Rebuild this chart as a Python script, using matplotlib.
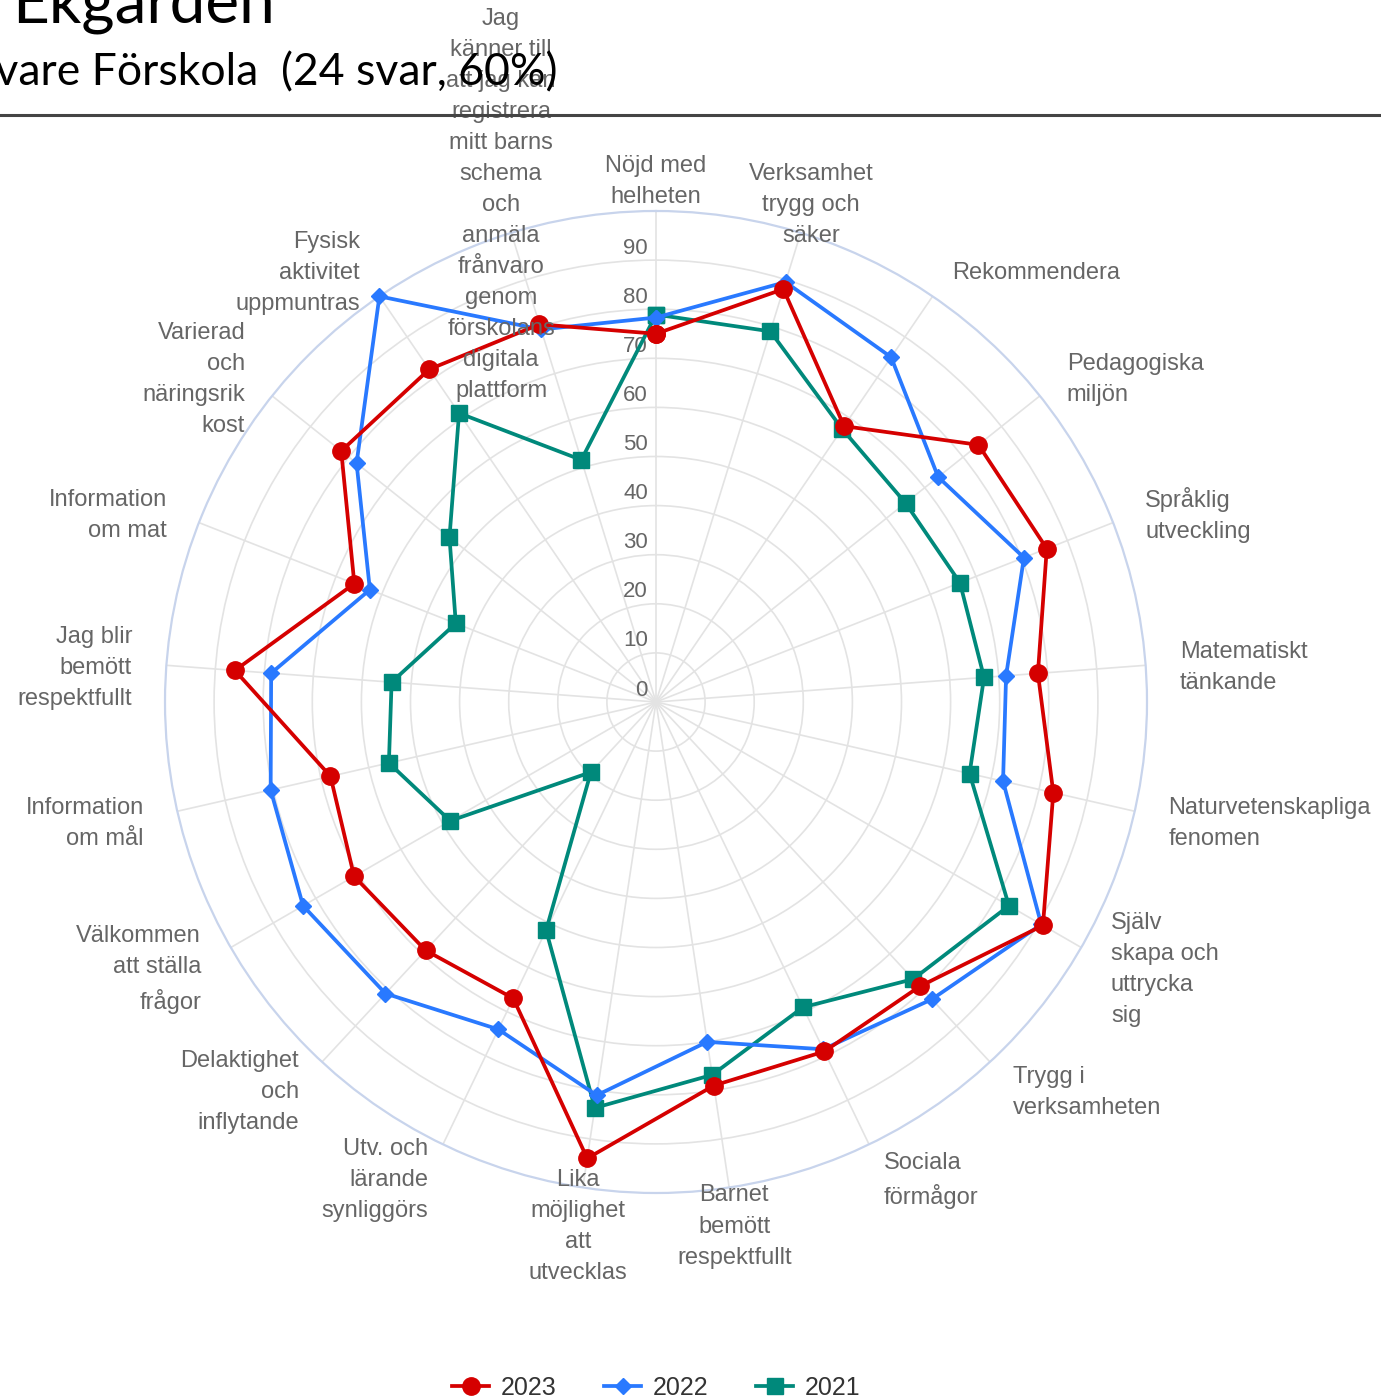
import matplotlib
matplotlib.use("Agg")
import matplotlib.pyplot as plt
import numpy as np
from matplotlib.lines import Line2D
from matplotlib.transforms import offset_copy

plt.rcParams['font.family'] = ['Liberation Sans', 'DejaVu Sans']

# Category labels, clockwise from the top
categories = [
    "Nöjd med\nhelheten",
    "Verksamhet\ntrygg och\nsäker",
    "Rekommendera",
    "Pedagogiska\nmiljön",
    "Språklig\nutveckling",
    "Matematiskt\ntänkande",
    "Naturvetenskapliga\nfenomen",
    "Själv\nskapa och\nuttrycka\nsig",
    "Trygg i\nverksamheten",
    "Sociala\nförmågor",
    "Barnet\nbemött\nrespektfullt",
    "Lika\nmöjlighet\natt\nutvecklas",
    "Utv. och\nlärande\nsynliggörs",
    "Delaktighet\noch\ninflytande",
    "Välkommen\natt ställa\nfrågor",
    "Information\nom mål",
    "Jag blir\nbemött\nrespektfullt",
    "Information\nom mat",
    "Varierad\noch\nnäringsrik\nkost",
    "Fysisk\naktivitet\nuppmuntras",
    "Jag\nkänner till\natt jag kan\nregistrera\nmitt barns\nschema\noch\nanmäla\nfrånvaro\ngenom\nförskolans\ndigitala\nplattform",
]

vals_2023 = [75, 88, 68, 84, 85.5, 78, 83, 91, 79, 79, 79, 94, 67, 69, 71, 68, 86, 66, 82, 82, 80.5]
vals_2022 = [78.3, 89.5, 85, 73.5, 80.5, 71.5, 72.5, 90.6, 82.6, 78.5, 70, 81, 74, 81, 83, 80.5, 78.6, 62.6, 78, 100, 79.4]
vals_2021 = [78.9, 79, 67.3, 65, 66.5, 67, 65.5, 83, 77, 69, 76.8, 83.6, 51.6, 19.5, 48.4, 55.8, 54, 43.8, 53.8, 71.2, 51.6]

years = ["2023", "2022", "2021"]
ticks = list(range(0, 100, 10))

colors = {"2023": "#d50000", "2022": "#2979ff", "2021": "#00897b"}
markers = {"2023": ("o", 12.5), "2022": ("D", 8), "2021": ("s", 12)}
series = {"2023": vals_2023, "2022": vals_2022, "2021": vals_2021}

W, H = 1381, 1400
fig = plt.figure(figsize=(W / 100, H / 100), dpi=100)

# polar axes centred at (656, 702) px, radius 491 px
cx, cy, R = 656, 702, 491
ax = fig.add_axes([(cx - R) / W, (H - cy - R) / H, 2 * R / W, 2 * R / H], projection='polar')
ax.set_theta_zero_location('N')
ax.set_theta_direction(-1)

n = len(categories)
angles = np.linspace(0, 2 * np.pi, n, endpoint=False)

ax.set_ylim(0, 100)
ax.set_yticks(ticks[1:])
ax.set_yticklabels([])
ax.set_xticks(angles)
ax.set_xticklabels([])
ax.grid(True, color='#e3e3e3', linewidth=1.2)
ax.spines['polar'].set_edgecolor('#c8d4ec')
ax.spines['polar'].set_linewidth(1.6)
ax.tick_params(length=0)

# radial tick labels just above each ring
tick_tr = offset_copy(ax.transData, fig=fig, x=-8, y=12, units='dots')
for v in ticks:
    ax.text(0, v, str(v), transform=tick_tr, ha='right', va='center',
            fontsize=16, color='#666666', zorder=2)

# category labels
lab_tr = offset_copy(ax.transData, fig=fig, x=0, y=-5, units='dots')
for i, lab in enumerate(categories):
    deg = i * 360 / n
    if deg < 20 or deg > 340 or 160 < deg < 200:
        ha = 'center'
    elif deg < 180:
        ha = 'left'
    else:
        ha = 'right'
    ax.text(angles[i], 107, lab, transform=lab_tr, ha=ha, va='center', fontsize=17,
            color='#666666', linespacing=1.53, zorder=6)

# datasets, 2023 drawn on top
closed = np.append(angles, angles[0])
handles = {}
for z, yr in enumerate(reversed(years)):
    v = series[yr]
    m, ms = markers[yr]
    line, = ax.plot(closed, np.append(v, v[0]), color=colors[yr], linewidth=2.7,
                    marker=m, markersize=ms, label=yr, zorder=3 + z, clip_on=False)
    handles[yr] = line

fig.legend([handles[y] for y in years], years, loc='center',
           bbox_to_anchor=(cx / W, (H - 1388) / H), ncol=3, frameon=False,
           fontsize=18, handlelength=1.5, handletextpad=0.45, columnspacing=1.9,
           labelcolor='#333333')

# title block, partly outside the figure
fig.text(12 / W, 1 - 22 / H, "Ekgården", fontsize=46, ha='left', va='baseline',
         family=['Lato', 'DejaVu Sans'], color='black')
fig.text(557 / W, 1 - 85 / H, "Vårdnadshavare Förskola  (24 svar, 60%)", fontsize=32,
         ha='right', va='baseline', family=['Lato', 'DejaVu Sans'], color='black')
fig.add_artist(Line2D([0, 1], [1 - 115 / H] * 2, transform=fig.transFigure,
                      color='#444444', linewidth=2.2, zorder=10))

fig.savefig("out.png", dpi=100)
